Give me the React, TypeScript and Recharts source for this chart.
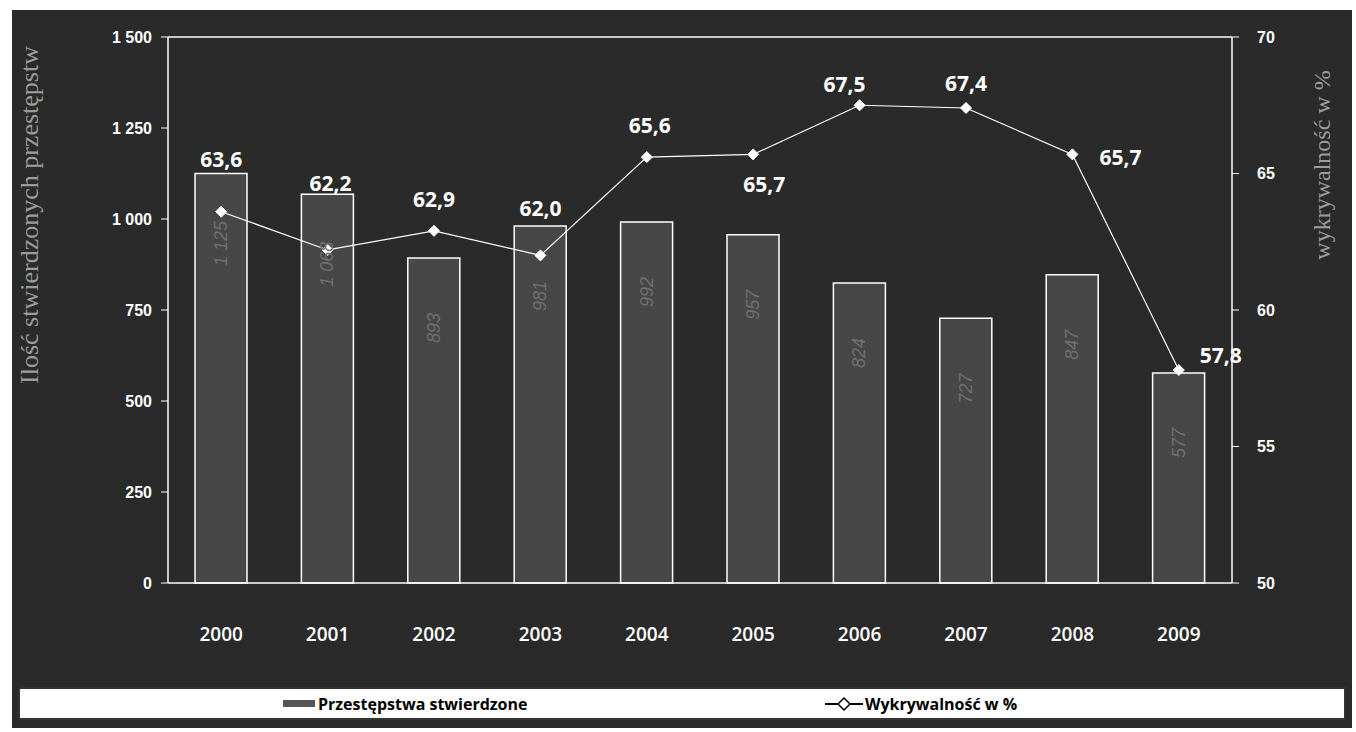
import React from 'react'
import { ComposedChart, Bar, Line, XAxis, YAxis, ReferenceLine, LabelList } from 'recharts'

// lata
const years = ['2000', '2001', '2002', '2003', '2004', '2005', '2006', '2007', '2008', '2009']
// przestępstwa stwierdzone (lewa oś)
const crimes = [1125, 1068, 893, 981, 992, 957, 824, 727, 847, 577]
// wykrywalność w % (prawa oś)
const detection = [63.6, 62.2, 62.9, 62.0, 65.6, 65.7, 67.5, 67.4, 65.7, 57.8]

const leftTicks = [0, 250, 500, 750, 1000, 1250, 1500]
const rightTicks = [50, 55, 60, 65, 70]
const seriesNames = ['Przestępstwa stwierdzone', 'Wykrywalność w %']
const axisTitles = ['Ilość stwierdzonych przestępstw', 'wykrywalność w %']

// etykiety procentów były ręcznie przesunięte w oryginale
const pctLabelShift = [
  [0, -53], [3, -67], [0, -32], [0, -47], [3, -32],
  [11, 30], [-15, -21], [0, -25], [48, 3], [42, -15],
]

const data = years.map((year, i) => ({ year, crimes: crimes[i], detection: detection[i] }))

const BG = '#2a2a2a'
const ROUND = '"Open Sans", "DejaVu Sans", sans-serif'

const fmtThousands = (v: number) => (v >= 1000 ? `${Math.floor(v / 1000)} ${String(v % 1000).padStart(3, '0')}` : `${v}`)
const fmtPct = (v: number) => v.toFixed(1).replace('.', ',')

const Diamond = (props: any) => {
  const { cx, cy } = props
  if (cx == null || cy == null) return null
  const r = 5.5
  return <path d={`M${cx},${cy - r}L${cx + r},${cy}L${cx},${cy + r}L${cx - r},${cy}Z`} fill="#fff" stroke="#fff" strokeWidth={1} />
}

const PctLabel = (props: any) => {
  const { x, y, value, index } = props
  const [dx, dy] = pctLabelShift[index] || [0, -20]
  return (
    <text x={x + dx} y={y + dy} textAnchor="middle" dominantBaseline="central" fill="#fff" fontSize={21} fontWeight={700} fontFamily={ROUND}>
      {fmtPct(value)}
    </text>
  )
}

const BarValue = (props: any) => {
  const { x, y, width, value } = props
  const cx = x + width / 2
  const cy = y + 70
  return (
    <text x={cx} y={cy} transform={`rotate(-90, ${cx}, ${cy})`} textAnchor="middle" dominantBaseline="central" fill="#707070" fontSize={18} fontStyle="italic" fontFamily="Liberation Sans, Arial, sans-serif">
      {fmtThousands(value)}
    </text>
  )
}

const YearTick = (props: any) => {
  const { x, y, payload } = props
  return (
    <text x={x} y={y + 50} textAnchor="middle" fill="#fff" fontSize={19} fontWeight={600} fontFamily={ROUND}>
      {payload.value}
    </text>
  )
}

export default function App() {
  return (
    <div style={{ position: 'absolute', left: 0, top: 0, width: 1356, height: 732, background: '#fff', overflow: 'hidden' }}>
      <div style={{ position: 'absolute', left: 12, top: 10, width: 1340, height: 718, background: BG }} />

      {/* tytuły osi */}
      <div style={{ position: 'absolute', left: 30, top: 215, transform: 'translate(-50%, -50%) rotate(-90deg)', whiteSpace: 'nowrap', color: '#9c9c9c', fontFamily: '"Liberation Serif", "DejaVu Serif", serif', fontSize: 26 }}>
        {axisTitles[0]}
      </div>
      <div style={{ position: 'absolute', left: 1322, top: 165, transform: 'translate(-50%, -50%) rotate(-90deg)', whiteSpace: 'nowrap', color: '#9c9c9c', fontFamily: '"Liberation Serif", "DejaVu Serif", serif', fontSize: 24 }}>
        {axisTitles[1]}
      </div>

      <div style={{ position: 'absolute', left: 0, top: 0 }}>
        <ComposedChart width={1356} height={680} data={data} margin={{ top: 37, right: 0, bottom: 37, left: 0 }} barSize={52}>
          <XAxis dataKey="year" height={60} tick={<YearTick />} tickLine={false} axisLine={{ stroke: '#fff', strokeWidth: 1.5 }} />
          <YAxis
            yAxisId="left"
            width={168}
            domain={[0, 1500]}
            ticks={leftTicks}
            tickFormatter={fmtThousands}
            tick={{ fill: '#fff', fontSize: 16, fontWeight: 700, fontFamily: 'Liberation Sans, Arial, sans-serif' }}
            tickLine={{ stroke: '#fff' }}
            tickSize={7}
            tickMargin={9}
            axisLine={{ stroke: '#fff', strokeWidth: 1.5 }}
          />
          <YAxis
            yAxisId="right"
            orientation="right"
            width={124}
            domain={[50, 70]}
            ticks={rightTicks}
            tick={{ fill: '#fff', fontSize: 16, fontWeight: 700, fontFamily: 'Liberation Sans, Arial, sans-serif', textAnchor: 'start' }}
            tickLine={{ stroke: '#fff' }}
            tickSize={7}
            tickMargin={18}
            axisLine={{ stroke: '#fff', strokeWidth: 1.5 }}
          />
          <ReferenceLine yAxisId="left" y={1500} stroke="#fff" strokeWidth={1.5} />
          <Bar yAxisId="left" dataKey="crimes" name={seriesNames[0]} fill="#474747" stroke="#fff" strokeWidth={1.5} isAnimationActive={false}>
            <LabelList dataKey="crimes" content={<BarValue />} />
          </Bar>
          <Line
            yAxisId="right"
            dataKey="detection"
            name={seriesNames[1]}
            type="linear"
            stroke="#fff"
            strokeWidth={1.2}
            dot={<Diamond />}
            activeDot={false}
            label={<PctLabel />}
            isAnimationActive={false}
          />
        </ComposedChart>
      </div>

      {/* legenda */}
      <div style={{ position: 'absolute', left: 18, top: 687, width: 1328, height: 33, background: '#fff', border: '2px solid #333', boxSizing: 'border-box', fontFamily: ROUND, fontSize: 16, fontWeight: 700, color: '#000' }}>
        <div style={{ position: 'absolute', left: 263, top: 11, width: 32, height: 7, background: '#555' }} />
        <div style={{ position: 'absolute', left: 298, top: 4, whiteSpace: 'nowrap' }}>{seriesNames[0]}</div>
        <svg style={{ position: 'absolute', left: 805, top: 7 }} width={38} height={16}>
          <line x1={0} y1={8} x2={38} y2={8} stroke="#000" strokeWidth={2} />
          <path d="M19,2L25,8L19,14L13,8Z" fill="#fff" stroke="#000" strokeWidth={1.5} />
        </svg>
        <div style={{ position: 'absolute', left: 845, top: 4, whiteSpace: 'nowrap' }}>{seriesNames[1]}</div>
      </div>
    </div>
  )
}
